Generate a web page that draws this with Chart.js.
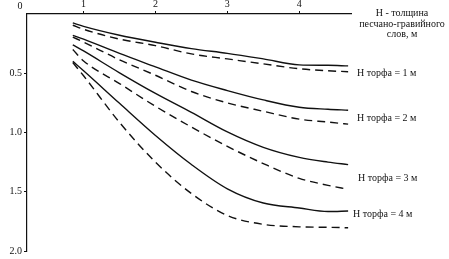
<!DOCTYPE html>
<html>
<head>
<meta charset="utf-8">
<script src="https://cdn.jsdelivr.net/npm/chart.js@4"></script>
<style>
  body { margin: 0; background: #fff; }
  canvas { display: block; }
</style>
</head>
<body>
<canvas id="chart" width="449" height="259"></canvas>
<script>
// H - thickness of the sand-gravel layer, m
const thickness = [0.85, 1.0, 1.5, 2.0, 2.5, 3.0, 3.5, 4.0, 4.4, 4.68];

// solid / dashed curve for every peat thickness
const peat1Solid  = [0.075, 0.104, 0.179, 0.238, 0.292, 0.332, 0.379, 0.429, 0.433, 0.438];
const peat1Dashed = [0.095, 0.129, 0.212, 0.267, 0.337, 0.379, 0.421, 0.462, 0.479, 0.487];
const peat2Solid  = [0.180, 0.212, 0.333, 0.446, 0.558, 0.646, 0.725, 0.787, 0.804, 0.812];
const peat2Dashed = [0.195, 0.237, 0.387, 0.517, 0.654, 0.750, 0.821, 0.887, 0.912, 0.929];
const peat3Solid  = [0.260, 0.312, 0.496, 0.670, 0.830, 0.995, 1.125, 1.210, 1.250, 1.271];
const peat3Dashed = [0.300, 0.396, 0.587, 0.779, 0.954, 1.117, 1.262, 1.387, 1.446, 1.479];
const peat4Solid  = [0.400, 0.479, 0.754, 1.025, 1.270, 1.475, 1.595, 1.637, 1.667, 1.662];
const peat4Dashed = [0.410, 0.521, 0.915, 1.250, 1.515, 1.700, 1.775, 1.796, 1.800, 1.804];

const xTicks = [1, 2, 3, 4];
const yTicks = [0.5, 1.0, 1.5, 2.0];

const curveLabels = ['Н торфа = 1 м', 'Н торфа = 2 м', 'Н торфа = 3 м', 'Н торфа = 4 м'];
const axisTitle = ['Н - толщина', 'песчано-гравийного', 'слов, м'];

const ink = '#111';
const serif = "'Liberation Serif', 'DejaVu Serif', serif";

function makeSeries(values, dashed) {
    return {
        data: thickness.map((x, i) => ({ x: x, y: values[i] })),
        borderColor: ink,
        borderWidth: 1.4,
        borderDash: dashed ? [8, 5] : [],
        pointRadius: 0,
        fill: false,
        cubicInterpolationMode: 'monotone'
    };
}

// text on the right side and the "0" at the corner
const notes = {
    id: 'notes',
    afterDraw(chart) {
        const ctx = chart.ctx;
        ctx.save();
        ctx.fillStyle = ink;
        ctx.font = '10px ' + serif;
        ctx.textBaseline = 'middle';
        ctx.textAlign = 'center';
        ctx.fillText('0', 20, 6);
        ctx.fillText(axisTitle[0], 402, 13);
        ctx.fillText(axisTitle[1], 402, 24);
        ctx.fillText(axisTitle[2], 402, 34);
        ctx.textAlign = 'left';
        const spots = [[357, 73], [357, 118], [358, 178], [353, 214]];
        curveLabels.forEach((t, i) => ctx.fillText(t, spots[i][0], spots[i][1]));
        ctx.restore();
    }
};

new Chart(document.getElementById('chart'), {
    type: 'line',
    data: {
        datasets: [
            makeSeries(peat1Solid, false), makeSeries(peat1Dashed, true),
            makeSeries(peat2Solid, false), makeSeries(peat2Dashed, true),
            makeSeries(peat3Solid, false), makeSeries(peat3Dashed, true),
            makeSeries(peat4Solid, false), makeSeries(peat4Dashed, true)
        ]
    },
    options: {
        responsive: false,
        animation: false,
        layout: { padding: { left: 0, top: 0, right: 98, bottom: 0 } },
        plugins: { legend: { display: false }, tooltip: { enabled: false } },
        scales: {
            x: {
                type: 'linear',
                position: 'top',
                min: 0.213,
                max: 4.72,
                afterBuildTicks: s => { s.ticks = xTicks.map(v => ({ value: v })); },
                afterFit: s => { s.height = 14; },
                ticks: { color: ink, font: { family: serif, size: 10 }, padding: 1, maxRotation: 0 },
                grid: { drawOnChartArea: false, tickLength: 3, color: ink },
                border: { color: ink, width: 1.2 }
            },
            y: {
                type: 'linear',
                reverse: true,
                min: 0,
                max: 2,
                afterBuildTicks: s => { s.ticks = yTicks.map(v => ({ value: v })); },
                afterFit: s => { s.width = 27; },
                ticks: {
                    color: ink,
                    font: { family: serif, size: 10 },
                    padding: 2,
                    callback: v => v.toFixed(1)
                },
                grid: { drawOnChartArea: false, tickLength: 3, color: ink },
                border: { color: ink, width: 1.2 }
            }
        }
    },
    plugins: [notes]
});
</script>
</body>
</html>
